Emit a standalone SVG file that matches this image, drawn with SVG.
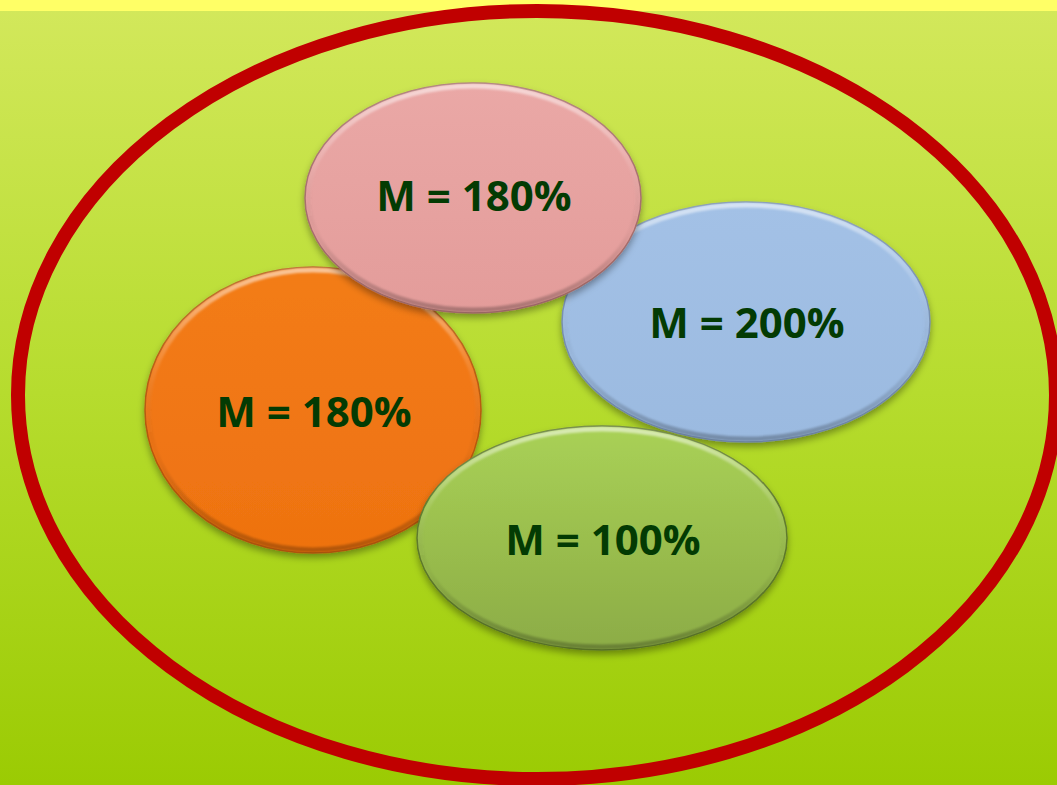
<svg xmlns="http://www.w3.org/2000/svg" width="1057" height="785" viewBox="0 0 1057 785">
  <defs>
    <linearGradient id="bg" x1="0" y1="0" x2="0" y2="1">
      <stop offset="0" stop-color="#d3e85c"/>
      <stop offset="0.5" stop-color="#b6dc2e"/>
      <stop offset="1" stop-color="#9bcb03"/>
    </linearGradient>
    <linearGradient id="gPink" x1="0" y1="0" x2="0" y2="1">
      <stop offset="0" stop-color="#eaa8a6"/>
      <stop offset="1" stop-color="#e39c9a"/>
    </linearGradient>
    <linearGradient id="gOrange" x1="0" y1="0" x2="0" y2="1">
      <stop offset="0" stop-color="#f37c18"/>
      <stop offset="1" stop-color="#ee7210"/>
    </linearGradient>
    <linearGradient id="gBlue" x1="0" y1="0" x2="0" y2="1">
      <stop offset="0" stop-color="#a3c1e6"/>
      <stop offset="1" stop-color="#9bbae0"/>
    </linearGradient>
    <linearGradient id="gGreen" x1="0" y1="0" x2="0" y2="1">
      <stop offset="0" stop-color="#a9d156"/>
      <stop offset="1" stop-color="#8cac46"/>
    </linearGradient>
    <linearGradient id="rim" x1="0" y1="0" x2="0" y2="1">
      <stop offset="0" stop-color="#ffffff" stop-opacity="0.55"/>
      <stop offset="0.35" stop-color="#ffffff" stop-opacity="0.1"/>
      <stop offset="0.65" stop-color="#000000" stop-opacity="0.03"/>
      <stop offset="1" stop-color="#000000" stop-opacity="0.25"/>
    </linearGradient>
    <filter id="shadow" x="-10%" y="-10%" width="120%" height="130%">
      <feDropShadow dx="0" dy="4" stdDeviation="3.5" flood-color="#000000" flood-opacity="0.35"/>
    </filter>
    <filter id="soft" x="-5%" y="-5%" width="110%" height="110%">
      <feGaussianBlur stdDeviation="1.2"/>
    </filter>
  </defs>
  <style>
    .lbl { font-family: "Open Sans", "Liberation Sans", Arial, sans-serif; font-weight: 700; font-size: 42px; fill: #033b03; text-anchor: middle; }
    .edge { stroke-width: 1.5; filter: url(#shadow); }
    .rim { fill: none; stroke: url(#rim); stroke-width: 5; filter: url(#soft); }
  </style>
  <rect x="0" y="0" width="1057" height="785" fill="url(#bg)"/>
  <rect x="0" y="0" width="1057" height="11" fill="#ffff66"/>
  <g id="outer-ring">
    <ellipse cx="537" cy="395" rx="519" ry="384" fill="none" stroke="#c00000" stroke-width="14"/>
  </g>
  <g id="connectors"/>
  <g id="node-orange">
    <ellipse cx="313" cy="410" rx="168" ry="143" fill="url(#gOrange)" stroke="#b85a10" class="edge"/>
    <ellipse cx="313" cy="410" rx="165" ry="140" class="rim"/>
    <text x="314" y="427" class="lbl">M = 180%</text>
  </g>
  <g id="node-blue">
    <ellipse cx="746" cy="322" rx="184" ry="120" fill="url(#gBlue)" stroke="#7890b0" class="edge"/>
    <ellipse cx="746" cy="322" rx="181" ry="117" class="rim"/>
    <text x="747" y="338" class="lbl">M = 200%</text>
  </g>
  <g id="node-green">
    <ellipse cx="602" cy="538" rx="185" ry="112" fill="url(#gGreen)" stroke="#5e7a2c" class="edge"/>
    <ellipse cx="602" cy="538" rx="182" ry="109" class="rim"/>
    <text x="603" y="555" class="lbl">M = 100%</text>
  </g>
  <g id="node-pink">
    <ellipse cx="473" cy="198" rx="168" ry="115" fill="url(#gPink)" stroke="#a8706e" class="edge"/>
    <ellipse cx="473" cy="198" rx="165" ry="112" class="rim"/>
    <text x="474" y="211" class="lbl">M = 180%</text>
  </g>
</svg>
